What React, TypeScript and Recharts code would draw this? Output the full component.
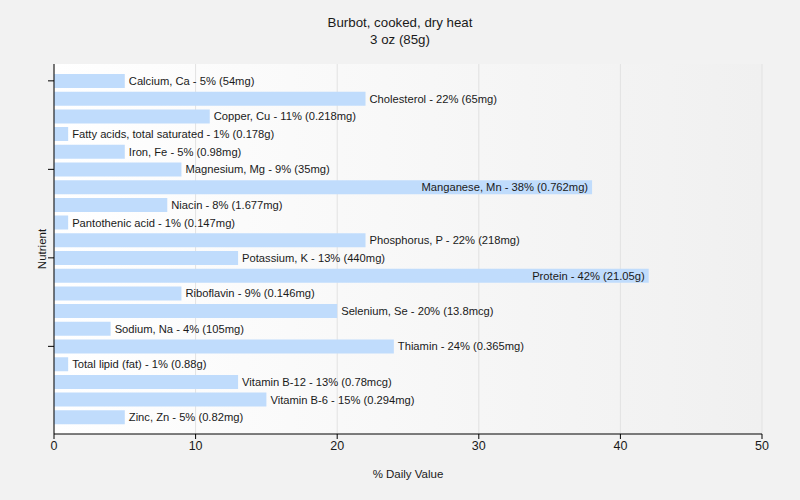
import React from 'react';
import { BarChart, Bar, XAxis, YAxis, CartesianGrid, LabelList } from 'recharts';

const nutrients = [
  'Calcium, Ca', 'Cholesterol', 'Copper, Cu', 'Fatty acids, total saturated', 'Iron, Fe',
  'Magnesium, Mg', 'Manganese, Mn', 'Niacin', 'Pantothenic acid', 'Phosphorus, P',
  'Potassium, K', 'Protein', 'Riboflavin', 'Selenium, Se', 'Sodium, Na',
  'Thiamin', 'Total lipid (fat)', 'Vitamin B-12', 'Vitamin B-6', 'Zinc, Zn',
];
const dailyValues = [5, 22, 11, 1, 5, 9, 38, 8, 1, 22, 13, 42, 9, 20, 4, 24, 1, 13, 15, 5];
const amounts = [
  '54mg', '65mg', '0.218mg', '0.178g', '0.98mg',
  '35mg', '0.762mg', '1.677mg', '0.147mg', '218mg',
  '440mg', '21.05g', '0.146mg', '13.8mcg', '105mg',
  '0.365mg', '0.88g', '0.78mcg', '0.294mg', '0.82mg',
];
const xTicks = [0, 10, 20, 30, 40, 50];
const yTickNames = [nutrients[0], nutrients[5], nutrients[10], nutrients[15]];

const data = nutrients.map((n, i) => ({
  name: n,
  value: dailyValues[i],
  label: `${n} - ${dailyValues[i]}% (${amounts[i]})`,
}));

const FONT = '"Liberation Sans", Arial, sans-serif';
const TEXT = '#1a1a1a';

const BarLabel = (props: any) => {
  const { x, y, width, height, value, index } = props;
  const inside = dailyValues[index] > 30;
  const cy = y + height / 2;
  return (
    <text
      x={inside ? x + width - 4 : x + width + 4}
      y={cy}
      dy="0.35em"
      textAnchor={inside ? 'end' : 'start'}
      fontSize={11.2}
      fontFamily={FONT}
      fill={TEXT}
    >
      {value}
    </text>
  );
};

const EmptyTick = () => <g />;

export default function App() {
  return (
    <div style={{ position: 'absolute', left: 0, top: 0, width: 800, height: 500, background: '#f2f2f2', fontFamily: FONT }}>
      <div style={{ position: 'absolute', left: 0, top: 14, width: 800, textAlign: 'center', fontSize: 13.3, lineHeight: '17px', color: TEXT }}>
        <div>Burbot, cooked, dry heat</div>
        <div>3 oz (85g)</div>
      </div>
      <BarChart
        width={800}
        height={500}
        data={data}
        layout="vertical"
        margin={{ top: 64, right: 38, bottom: 16, left: 0 }}
        barSize={14}
      >
        <defs>
          <linearGradient id="plotBg" x1="0" y1="0" x2="1" y2="0">
            <stop offset="0%" stopColor="#ffffff" />
            <stop offset="100%" stopColor="#f0f0f0" />
          </linearGradient>
        </defs>
        <CartesianGrid horizontal={false} vertical={true} stroke="#e2e2e2" fill="url(#plotBg)" />
        <XAxis
          type="number"
          domain={[0, 50]}
          ticks={xTicks}
          height={50}
          tickSize={5}
          axisLine={{ stroke: '#000' }}
          tickLine={{ stroke: '#000' }}
          tick={{ fontSize: 12.5, fill: TEXT, fontFamily: FONT }}
          label={{ value: '% Daily Value', position: 'insideBottom', offset: 6, fontSize: 11.5, fill: TEXT, fontFamily: FONT }}
        />
        <YAxis
          type="category"
          dataKey="name"
          width={54}
          ticks={yTickNames}
          interval={0}
          tick={EmptyTick}
          tickSize={6}
          padding={{ top: 8, bottom: 8 }}
          axisLine={{ stroke: '#000' }}
          tickLine={{ stroke: '#000' }}
          label={{
            content: (p: any) => {
              const vb = p.viewBox;
              const cx = 42;
              const cy = vb.y + vb.height / 2;
              return (
                <text x={cx} y={cy} transform={`rotate(-90 ${cx} ${cy})`} textAnchor="middle" dy="0.35em" fontSize={11.5} fill={TEXT} fontFamily={FONT}>
                  Nutrient
                </text>
              );
            },
          }}
        />
        <Bar dataKey="value" fill="#c0dcfc" isAnimationActive={false}>
          <LabelList dataKey="label" content={BarLabel} />
        </Bar>
      </BarChart>
    </div>
  );
}
